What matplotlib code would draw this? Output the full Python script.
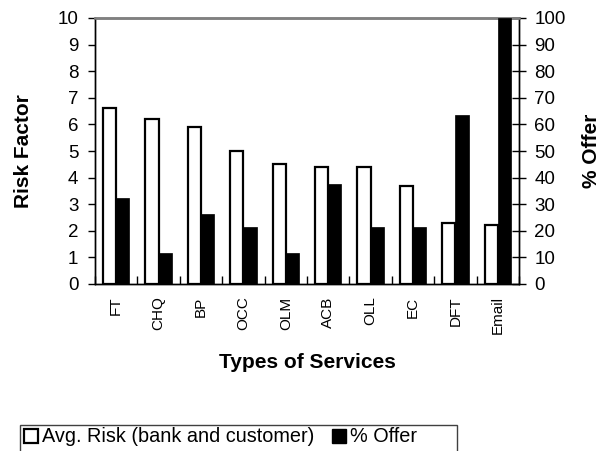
import matplotlib
matplotlib.use("Agg")
import matplotlib.pyplot as plt
import numpy as np
from matplotlib.patches import Patch, Rectangle

plt.rcParams['font.family'] = ['Liberation Sans', 'DejaVu Sans']

services = ["FT", "CHQ", "BP", "OCC", "OLM", "ACB", "OLL", "EC", "DFT", "Email"]
avg_risk = [6.6, 6.2, 5.9, 5.0, 4.5, 4.4, 4.4, 3.7, 2.3, 2.2]
pct_offer = [32.5, 11.8, 26.5, 21.5, 11.8, 37.5, 21.5, 21.5, 63.5, 100]
risk_ticks = list(range(0, 11))
offer_ticks = list(range(0, 101, 10))

W, H = 606, 451
fig = plt.figure(figsize=(W / 100, H / 100), dpi=100)
ax_l, ax_r, ax_t, ax_b = 95, 519, 18, 284
ax = fig.add_axes([ax_l / W, 1 - ax_b / H, (ax_r - ax_l) / W, (ax_b - ax_t) / H])
ax2 = ax.twinx()

x = np.arange(len(services))
bw = 0.31
ax.bar(x - bw / 2, avg_risk, width=bw, color="white", edgecolor="black",
       linewidth=1.6, zorder=3)
ax2.bar(x + bw / 2, pct_offer, width=bw, color="black", edgecolor="black",
        linewidth=0.5, zorder=3)

ax.set_xlim(-0.5, len(services) - 0.5)
ax.set_ylim(0, 10)
ax2.set_ylim(0, 100)
ax.set_yticks(risk_ticks)
ax2.set_yticks(offer_ticks)

# category boundary ticks on the x axis, labels at the centres
ax.set_xticks(np.arange(len(services) + 1) - 0.5)
ax.set_xticklabels([])
ax.set_xticks(x, minor=True)
ax.set_xticklabels(services, minor=True, rotation=90, fontsize=11)
ax.tick_params(axis="x", which="major", direction="in", length=6, width=1)
ax.tick_params(axis="x", which="minor", length=0, pad=9)

ax.tick_params(axis="y", direction="out", length=5, width=1, labelsize=13.5, pad=7)
ax2.tick_params(axis="y", direction="inout", length=10, width=1, labelsize=13.5, pad=6)

for a in (ax, ax2):
    for s in ("left", "right", "bottom"):
        a.spines[s].set_color("black")
        a.spines[s].set_linewidth(1.0)
    a.spines["top"].set_color("#808080")
    a.spines["top"].set_linewidth(1.8)

span = ax_r - ax_l
ax.set_ylabel("Risk Factor", fontsize=15, fontweight="bold")
ax.yaxis.set_label_coords((33 - ax_l) / span, 0.5)
ax2.set_ylabel("% Offer", fontsize=15, fontweight="bold", rotation=90)
ax2.yaxis.set_label_coords((582 - ax_l) / span, 0.5)
fig.text(307 / W, 1 - 362 / H, "Types of Services", fontsize=15,
         fontweight="bold", ha="center", va="center")

# legend box spanning a fixed width, entries on one row
fig.patches.append(Rectangle((20 / W, -0.01), (457 - 20) / W, 1 - 425 / H + 0.01,
                             transform=fig.transFigure, facecolor="white",
                             edgecolor="#404040", linewidth=1.0))
handles = [Patch(facecolor="white", edgecolor="black", linewidth=1.6),
           Patch(facecolor="black", edgecolor="black")]
leg = fig.legend(handles, ["Avg. Risk (bank and customer)", "% Offer"],
                 loc="center left", bbox_to_anchor=(24 / W, 1 - 437 / H),
                 ncol=2, fontsize=14.3, frameon=False,
                 handlelength=0.7, handleheight=0.7, handletextpad=0.2,
                 columnspacing=0.9, borderpad=0.0, borderaxespad=0)

fig.savefig("out.png", dpi=100)
